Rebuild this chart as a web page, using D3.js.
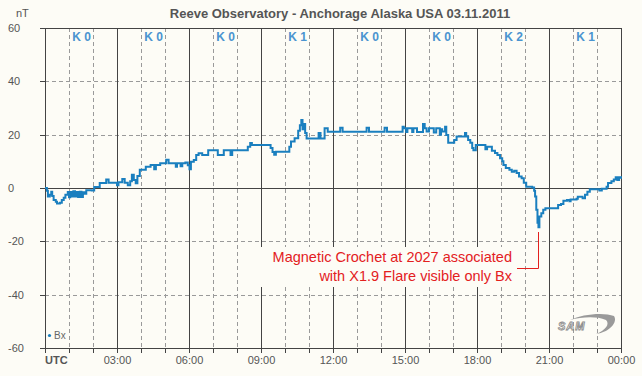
<!DOCTYPE html>
<html>
<head>
<meta charset="utf-8">
<script src="https://cdn.jsdelivr.net/npm/d3@7"></script>
<style>
  html, body { margin: 0; padding: 0; background: #fdfcf6; }
  svg { display: block; font-family: Arial, "Liberation Sans", sans-serif; }
</style>
</head>
<body>
<svg id="chart" width="642" height="376"></svg>
<script>
// Bx readings (hours UTC, nT)
const hours = [
  0.00, 0.08, 0.12, 0.20, 0.26, 0.30, 0.36, 0.45, 0.50, 0.62, 0.70, 0.78, 0.85, 0.95,
  1.00, 1.05, 1.12, 1.18, 1.25, 1.30, 1.38, 1.45, 1.52, 1.58, 1.65, 1.72, 1.95,
  2.05, 2.20, 2.28, 2.45, 2.55, 2.65, 2.90, 3.00, 3.06, 3.22, 3.32, 3.45, 3.55,
  3.62, 3.70, 3.78, 3.85, 3.95, 4.10, 4.20, 4.40, 4.55, 4.62, 4.80, 5.05, 5.15,
  5.40, 5.45, 5.50, 5.65, 5.72, 5.85, 5.95, 6.02, 6.08, 6.20, 6.30, 6.40, 6.55,
  6.80, 7.15, 7.20, 7.45, 7.70, 7.73, 7.80, 8.40, 8.45, 8.55, 8.62, 9.30, 9.40,
  9.48, 9.55, 9.62, 10.10, 10.18, 10.25, 10.40, 10.55, 10.62, 10.68, 10.73, 10.78,
  10.84, 10.90, 11.35, 11.40, 11.48, 11.60, 11.65, 11.78, 12.30, 12.40, 13.40, 13.50,
  14.15, 14.25, 14.90, 14.95, 15.05, 15.10, 15.30, 15.35, 15.50, 15.75, 15.82,
  15.90, 16.00, 16.20, 16.30, 16.45,
  16.50, 16.55, 16.67, 16.72, 16.80, 17.00, 17.05, 17.15, 17.45, 17.50, 17.55,
  17.63, 17.72, 17.80, 17.85, 17.95, 18.30, 18.35, 18.42, 18.55, 18.62, 18.75,
  18.85, 18.96, 19.05, 19.10, 19.20, 19.35, 19.45, 19.55, 19.65, 19.75, 19.86,
  19.95, 20.05, 20.30, 20.38, 20.42, 20.47, 20.52, 20.56, 20.60, 20.68, 20.76,
  20.85, 21.30, 21.38, 21.50, 21.60, 21.75, 21.85, 21.90, 22.15, 22.20, 22.40,
  22.50, 22.60, 22.70, 23.00, 23.10, 23.20, 23.40, 23.46, 23.60, 23.70, 23.78,
  23.85, 23.92, 24.00
];
const bx = [
  0, -1, -3.2, -2.5, -1.4, -3, -4.5, -5.2, -5.8, -5.5, -4.5, -3.7, -2.5, -1.5,
  -3.5, -1.5, -3.2, -1.2, -3.2, -1.5, -3.4, -1.4, -3.4, -1.6, -2.2, -0.8, -0.9,
  0.4, 0.4, 1.9, 1.9, 3.2, 2.0, 2.0, 1.0, 2.2, 3.4, 2.0, 1.0, 2.5,
  5.0, 3.0, 1.8, 4.5, 6.8, 6.8, 8.0, 8.6, 7.0, 8.6, 9.3, 10.6, 9.3,
  9.3, 8.0, 9.3, 8.2, 9.3, 9.6, 8.5, 7.0, 9.8, 10.5, 12.4, 13.0, 12.4,
  14.2, 14.2, 12.4, 14.2, 14.2, 12.4, 14.2, 14.2, 15.5, 16.9, 16.1, 16.1, 15.0,
  13.5, 12.5, 13.6, 13.6, 15.5, 17.4, 18.7, 21.5, 23.5, 25.5, 22.0, 24.0,
  20.6, 18.6, 18.6, 20.6, 18.6, 18.6, 22.4, 21.1, 22.6, 21.1, 22.6, 21.1,
  22.6, 21.1, 23.0, 22.4, 21.0, 22.4, 21.0, 22.4, 21.0, 24.0, 22.4,
  21.2, 22.4, 20.8, 22.4, 20.0,
  22.0, 21.2, 23.0, 19.9, 17.0, 17.0, 18.0, 19.3, 19.3, 20.6, 19.3,
  18.0, 17.0, 15.0, 14.2, 16.1, 16.1, 14.5, 15.5, 15.5, 14.0, 13.1,
  12.4, 11.2, 10.0, 8.6, 7.5, 6.8, 6.1, 6.5, 5.6, 4.3, 3.7,
  2.0, 0.5, 0.2, -1.0, -3.2, -8.2, -13.0, -14.7, -10.7, -9.5, -8.2,
  -7.6, -7.6, -6.4, -6.0, -4.8, -4.5, -5.0, -4.3, -4.0, -3.3, -3.8,
  -2.5, -1.4, -0.5, -0.5, -0.9, -0.3, 0.5, 1.9, 2.5, 3.2, 4.0,
  3.0, 4.0, 3.5
];

// K index per 3-hour block
const kBlocks = [0, 3, 6, 9, 12, 15, 18, 21];
const kValues = ["K 0", "K 0", "K 0", "K 1", "K 0", "K 0", "K 2", "K 1"];

const yTicks = [-60, -40, -20, 0, 20, 40, 60];
const hourTicks = d3.range(0, 25);
const xLabels = ["UTC", "03:00", "06:00", "09:00", "12:00", "15:00", "18:00", "21:00", "00:00"];

const titleText = "Reeve Observatory - Anchorage Alaska USA 03.11.2011";
const noteLines = ["Magnetic Crochet at 2027 associated", "with X1.9 Flare visible only Bx"];

const svg = d3.select('#chart');
const W = 642, H = 376;
const plotLeft = 45, plotRight = 621, plotTop = 28, plotBottom = 348;

const x = d3.scaleLinear().domain([0, 24]).range([plotLeft, plotRight]);
const y = d3.scaleLinear().domain([-60, 60]).range([plotBottom, plotTop]);
const ry = v => Math.round(y(v)) + 0.5;

svg.append('rect').attr('width', W).attr('height', H).attr('fill', '#fdfcf6');

// title
svg.append('text')
  .attr('x', 340).attr('y', 18)
  .attr('text-anchor', 'middle')
  .attr('font-size', 13).attr('font-weight', 'bold')
  .attr('fill', '#555')
  .text(titleText);

svg.append('text')
  .attr('x', 16).attr('y', 17)
  .attr('font-size', 11).attr('fill', '#555')
  .text('nT');

const grid = svg.append('g');

// hourly dashed lines
grid.selectAll('.minor')
  .data(hourTicks.filter(h => h % 3 !== 0))
  .enter().append('line')
  .attr('x1', d => x(d) + 0.5).attr('x2', d => x(d) + 0.5)
  .attr('y1', plotTop).attr('y2', plotBottom)
  .attr('stroke', '#9a9a9a').attr('stroke-dasharray', '4,3');

// horizontal dashed lines
grid.selectAll('.hdash')
  .data(yTicks.filter(v => v % 60 !== 0 && v !== 0))
  .enter().append('line')
  .attr('x1', plotLeft).attr('x2', plotRight)
  .attr('y1', ry).attr('y2', ry)
  .attr('stroke', '#9a9a9a').attr('stroke-dasharray', '4,3');

// major solid lines every 3 hours
grid.selectAll('.major')
  .data(hourTicks.filter(h => h % 3 === 0 && h > 0 && h < 24))
  .enter().append('line')
  .attr('x1', d => x(d) + 0.5).attr('x2', d => x(d) + 0.5)
  .attr('y1', plotTop).attr('y2', plotBottom)
  .attr('stroke', '#444');

// annotation backdrop hides the grid behind the note
svg.append('rect')
  .attr('x', 244).attr('y', 247).attr('width', 272).attr('height', 40)
  .attr('fill', '#fdfcf6');

// axes / frame
const frame = svg.append('g').attr('stroke', '#444').attr('fill', 'none');
frame.append('line').attr('x1', plotLeft + 0.5).attr('x2', plotLeft + 0.5).attr('y1', plotTop).attr('y2', plotBottom);
frame.append('line').attr('x1', plotRight + 0.5).attr('x2', plotRight + 0.5).attr('y1', plotTop).attr('y2', plotBottom);
[60, 0, -60].forEach(v => {
  frame.append('line')
    .attr('x1', plotLeft).attr('x2', plotRight)
    .attr('y1', ry(v)).attr('y2', ry(v));
});
frame.selectAll('.ytick')
  .data(yTicks)
  .enter().append('line')
  .attr('x1', plotLeft - 5).attr('x2', plotLeft)
  .attr('y1', ry).attr('y2', ry);
frame.selectAll('.xtick')
  .data(hourTicks)
  .enter().append('line')
  .attr('x1', d => x(d) + 0.5).attr('x2', d => x(d) + 0.5)
  .attr('y1', plotBottom).attr('y2', plotBottom + 5);

// y labels
svg.selectAll('.ylab')
  .data(yTicks)
  .enter().append('text')
  .attr('x', 8).attr('y', d => y(d) + 4)
  .attr('font-size', 11).attr('fill', '#555')
  .text(d => d);

// x labels
svg.selectAll('.xlab')
  .data(xLabels)
  .enter().append('text')
  .attr('x', (d, i) => i === 0 ? plotLeft : x(i * 3) + 0.5)
  .attr('y', 364)
  .attr('text-anchor', (d, i) => i === 0 ? 'start' : 'middle')
  .attr('font-size', 11)
  .attr('font-weight', (d, i) => i === 0 ? 'bold' : 'normal')
  .attr('fill', '#555')
  .text(d => d);

// K index labels
svg.selectAll('.klab')
  .data(kValues)
  .enter().append('text')
  .attr('x', (d, i) => x(kBlocks[i] + 1.5) + 0.5)
  .attr('y', 41)
  .attr('text-anchor', 'middle')
  .attr('font-size', 12).attr('font-weight', 'bold')
  .attr('fill', '#4a94d0')
  .text(d => d);

// Bx trace
const line = d3.line()
  .x((d, i) => x(hours[i]))
  .y(d => y(d))
  .curve(d3.curveStepAfter);

svg.append('path')
  .datum(bx)
  .attr('d', line)
  .attr('fill', 'none')
  .attr('stroke', '#1a7fbf')
  .attr('stroke-width', 2);

// annotation
svg.selectAll('.note')
  .data(noteLines)
  .enter().append('text')
  .attr('x', 512).attr('y', (d, i) => 262 + i * 19)
  .attr('text-anchor', 'end')
  .attr('font-size', 14.5).attr('fill', '#e3201e')
  .text(d => d);

svg.append('path')
  .attr('d', 'M538.5,232 V268.5 H517')
  .attr('fill', 'none').attr('stroke', '#e3201e');

// legend
svg.append('circle').attr('cx', 49.5).attr('cy', 335.5).attr('r', 1.6).attr('fill', '#1a7fbf');
svg.append('text').attr('x', 54).attr('y', 339).attr('font-size', 10).attr('fill', '#666').text('Bx');

// SAM logo
const logo = svg.append('g').attr('transform', 'translate(556,312)');
logo.append('path')
  .attr('d', 'M14,8 C26,2 48,0 58,4 C62,10 54,20 40,22 C50,18 54,12 50,8 C40,4 26,5 14,8 Z')
  .attr('fill', '#9a9a9a');
logo.append('text')
  .attr('x', 2).attr('y', 18)
  .attr('font-size', 11).attr('font-style', 'italic').attr('font-weight', 'bold')
  .attr('fill', 'none').attr('stroke', '#888').attr('stroke-width', 0.8)
  .attr('letter-spacing', 1)
  .text('SAM');
</script>
</body>
</html>
